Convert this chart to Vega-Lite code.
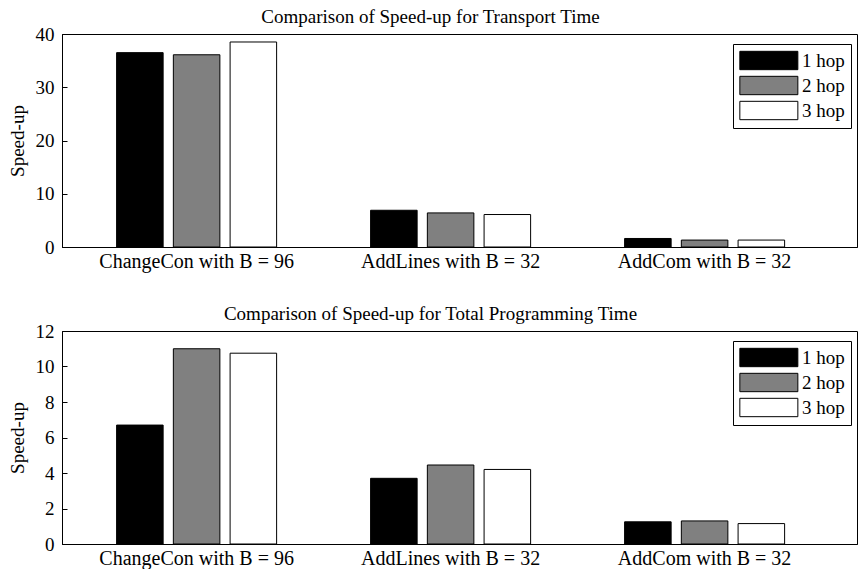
{
  "$schema": "https://vega.github.io/schema/vega-lite/v6.json",
  "padding": {"left": 7, "top": 7, "right": 0, "bottom": 0},
  "background": "white",
  "spacing": 32,
  "config": {
    "font": "Liberation Serif",
    "view": {"stroke": "black", "strokeWidth": 1},
    "axis": {"labelFont": "Liberation Serif", "titleFont": "Liberation Serif", "labelColor": "black", "titleColor": "black", "domainColor": "black", "tickColor": "black", "grid": false, "titleFontWeight": "normal", "labelLimit": 400},
    "title": {"font": "Liberation Serif", "fontSize": 19, "fontWeight": "normal", "color": "black"}
  },
  "datasets": {
    "transport": [
      {"task": "ChangeCon with B = 96", "hop": "1 hop", "speedup": 36.5},
      {"task": "ChangeCon with B = 96", "hop": "2 hop", "speedup": 36.1},
      {"task": "ChangeCon with B = 96", "hop": "3 hop", "speedup": 38.5},
      {"task": "AddLines with B = 32", "hop": "1 hop", "speedup": 6.9},
      {"task": "AddLines with B = 32", "hop": "2 hop", "speedup": 6.4},
      {"task": "AddLines with B = 32", "hop": "3 hop", "speedup": 6.1},
      {"task": "AddCom with B = 32", "hop": "1 hop", "speedup": 1.6},
      {"task": "AddCom with B = 32", "hop": "2 hop", "speedup": 1.3},
      {"task": "AddCom with B = 32", "hop": "3 hop", "speedup": 1.3}
    ],
    "total": [
      {"task": "ChangeCon with B = 96", "hop": "1 hop", "speedup": 6.7},
      {"task": "ChangeCon with B = 96", "hop": "2 hop", "speedup": 11.0},
      {"task": "ChangeCon with B = 96", "hop": "3 hop", "speedup": 10.75},
      {"task": "AddLines with B = 32", "hop": "1 hop", "speedup": 3.7},
      {"task": "AddLines with B = 32", "hop": "2 hop", "speedup": 4.45},
      {"task": "AddLines with B = 32", "hop": "3 hop", "speedup": 4.2},
      {"task": "AddCom with B = 32", "hop": "1 hop", "speedup": 1.25},
      {"task": "AddCom with B = 32", "hop": "2 hop", "speedup": 1.3},
      {"task": "AddCom with B = 32", "hop": "3 hop", "speedup": 1.15}
    ]
  },
  "vconcat": [
    {
      "title": {"text": "Comparison of Speed-up for Transport Time", "dx": -29, "offset": -2},
      "width": 795,
      "height": 213,
      "data": {"name": "transport"},
      "mark": {"type": "bar", "stroke": "black", "strokeWidth": 1},
      "encoding": {
        "x": {"field": "task", "type": "nominal", "sort": null,
              "scale": {"paddingInner": 0.37, "paddingOuter": 0.25, "align": 0.43},
              "axis": {"title": null, "labelAngle": 0, "labelFontSize": 20, "labelPadding": 4, "ticks": false}},
        "xOffset": {"field": "hop", "type": "nominal", "sort": null, "scale": {"paddingInner": 0.18, "paddingOuter": 0}},
        "y": {"field": "speedup", "type": "quantitative", "scale": {"domain": [0, 40], "nice": false},
              "axis": {"title": "Speed-up", "values": [0, 10, 20, 30, 40], "labelFontSize": 19, "titleFontSize": 19, "ticks": true, "tickSize": -5, "labelPadding": 13, "titlePadding": 8}},
        "color": {"field": "hop", "type": "nominal",
                  "scale": {"domain": ["1 hop", "2 hop", "3 hop"], "range": ["#000000", "#808080", "#ffffff"]},
                  "legend": {"title": null, "orient": "none", "legendX": 671, "legendY": 10,
                             "symbolType": "M-1,-0.95L5,-0.95L5,0.95L-1,0.95Z", "symbolSize": 374,
                             "symbolStrokeColor": "black", "symbolStrokeWidth": 1,
                             "labelFontSize": 19, "labelFont": "Liberation Serif", "labelColor": "black",
                             "strokeColor": "black", "fillColor": "white", "padding": 6, "rowPadding": 2, "labelOffset": 42}}
      }
    },
    {
      "title": {"text": "Comparison of Speed-up for Total Programming Time", "dx": -29, "offset": -2},
      "width": 795,
      "height": 213,
      "data": {"name": "total"},
      "mark": {"type": "bar", "stroke": "black", "strokeWidth": 1},
      "encoding": {
        "x": {"field": "task", "type": "nominal", "sort": null,
              "scale": {"paddingInner": 0.37, "paddingOuter": 0.25, "align": 0.43},
              "axis": {"title": null, "labelAngle": 0, "labelFontSize": 20, "labelPadding": 4, "ticks": false}},
        "xOffset": {"field": "hop", "type": "nominal", "sort": null, "scale": {"paddingInner": 0.18, "paddingOuter": 0}},
        "y": {"field": "speedup", "type": "quantitative", "scale": {"domain": [0, 12], "nice": false},
              "axis": {"title": "Speed-up", "values": [0, 2, 4, 6, 8, 10, 12], "labelFontSize": 19, "titleFontSize": 19, "ticks": true, "tickSize": -5, "labelPadding": 13, "titlePadding": 8}},
        "color": {"field": "hop", "type": "nominal",
                  "scale": {"domain": ["1 hop", "2 hop", "3 hop"], "range": ["#000000", "#808080", "#ffffff"]},
                  "legend": {"title": null, "orient": "none", "legendX": 671, "legendY": 10,
                             "symbolType": "M-1,-0.95L5,-0.95L5,0.95L-1,0.95Z", "symbolSize": 374,
                             "symbolStrokeColor": "black", "symbolStrokeWidth": 1,
                             "labelFontSize": 19, "labelFont": "Liberation Serif", "labelColor": "black",
                             "strokeColor": "black", "fillColor": "white", "padding": 6, "rowPadding": 2, "labelOffset": 42}}
      }
    }
  ],
  "resolve": {"legend": {"color": "independent"}, "scale": {"y": "independent", "color": "independent"}}
}
